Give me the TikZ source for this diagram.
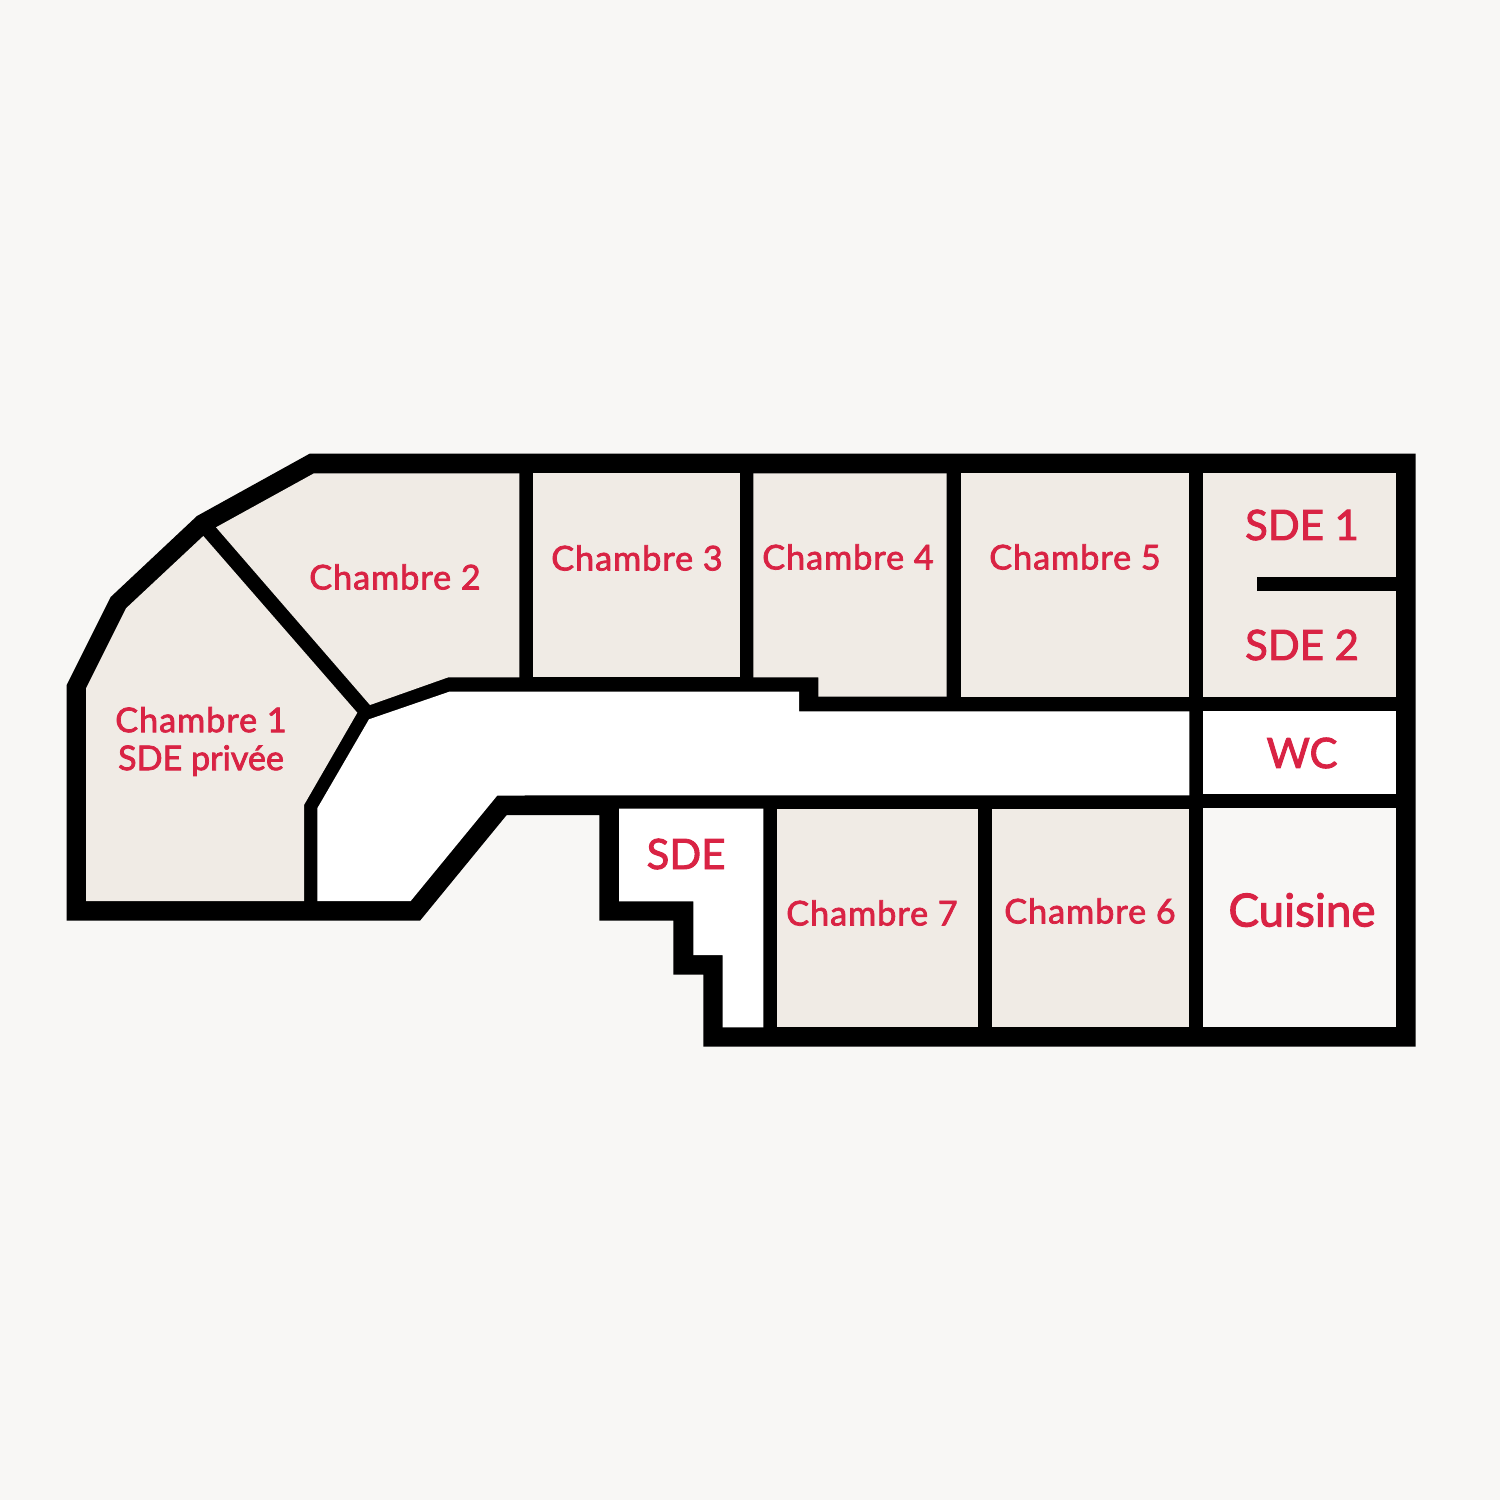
\documentclass[tikz,border=0pt]{standalone}
\usepackage{xcolor}
\usepackage{fontspec}
\setmainfont{Lato}[FakeBold=2.2]
\newfontfamily\widelato{Lato}[FakeBold=2.2,LetterSpace=3]
\definecolor{pagetint}{HTML}{F8F7F5}
\definecolor{roomtint}{HTML}{F0EBE5}
\definecolor{labelred}{HTML}{D92344}
\tikzset{
  room/.style={fill=roomtint},
  open/.style={fill=white},
  smalllabel/.style={text=labelred,align=center,font=\widelato\fontsize{9.7pt}{10.8pt}\selectfont},
  biglabel/.style={text=labelred,align=center,font=\fontsize{11.9pt}{14pt}\selectfont},
  cuisinelabel/.style={text=labelred,align=center,font=\fontsize{13pt}{14pt}\selectfont},
}
\begin{document}
\begin{tikzpicture}[x=0.01cm,y=-0.01cm]
  \useasboundingbox (0,0) rectangle (1500,1500);
  \fill[pagetint] (0,0) rectangle (1500,1500);
  % outer walls
  \fill[black] (310,453.5) -- (1415.5,453.5) -- (1415.5,1046.7) -- (703.3,1046.7)
    -- (703.3,974.7) -- (673.3,974.7) -- (673.3,920.7) -- (599.3,920.7) -- (599.3,815)
    -- (506.7,815) -- (420,920.7) -- (66.7,920.7) -- (66.7,685) -- (110.7,597) -- (197,516) -- cycle;
  % bedrooms
  \fill[room] (86,901) -- (86,688.3) -- (126,608.3) -- (203.3,536) -- (357.3,712.7)
    -- (304,805) -- (304,901) -- cycle;
  \fill[room] (314,473.3) -- (519.3,473.3) -- (519.3,677.3) -- (448.3,677.3)
    -- (370,705) -- (216,527.3) -- cycle;
  \fill[room] (533.3,473.3) rectangle (740,677.3);
  \fill[room] (753.3,473.3) -- (946.7,473.3) -- (946.7,696.7) -- (818.3,696.7)
    -- (818.3,677.3) -- (753.3,677.3) -- cycle;
  \fill[room] (960.7,473.3) rectangle (1189.3,697.3);
  \fill[room] (1203.3,473.3) rectangle (1396,697.3);
  \fill[room] (776.7,808.7) rectangle (978.3,1027.3);
  \fill[room] (992,808.7) rectangle (1189.3,1027.3);
  % corridor and the other rooms
  \fill[open] (369,719.3) -- (449.3,691.7) -- (799,691.7) -- (799,711.3) -- (1189.3,711.3)
    -- (1189.3,795.3) -- (497.3,795.5) -- (410.7,901) -- (317.3,901) -- (317.3,808.3) -- cycle;
  \fill[open] (1203.3,711.3) rectangle (1396,794.3);
  \fill[pagetint] (1203.3,808.3) rectangle (1396,1027.3);
  \fill[open] (619,808.7) -- (763.3,808.7) -- (763.3,1027.3) -- (722.7,1027.3)
    -- (722.7,955) -- (693.3,955) -- (693.3,901.3) -- (619,901.3) -- cycle;
  % wall between SDE 1 and SDE 2
  \fill[black] (1256.7,577) rectangle (1396,591.3);
  \node[smalllabel] (chambreA) at (201,741.5) {Chambre 1\\\normalfont SDE privée};
  \node[smalllabel] (chambreB) at (395,577) {Chambre 2};
  \node[smalllabel] (chambreC) at (637,558) {Chambre 3};
  \node[smalllabel] (chambreD) at (848,557) {Chambre 4};
  \node[smalllabel] (chambreE) at (1075,557) {Chambre 5};
  \node[smalllabel] (chambreF) at (1090,911) {Chambre 6};
  \node[smalllabel] (chambreG) at (872,913) {Chambre 7};
  \node[biglabel] (sdeA) at (1302,525) {SDE 1};
  \node[biglabel] (sdeB) at (1302,645) {SDE 2};
  \node[biglabel] (wc) at (1302,753) {WC};
  \node[biglabel] (sde) at (686,854) {SDE};
  \node[cuisinelabel] (cuisine) at (1302,910) {Cuisine};
\end{tikzpicture}
\end{document}
